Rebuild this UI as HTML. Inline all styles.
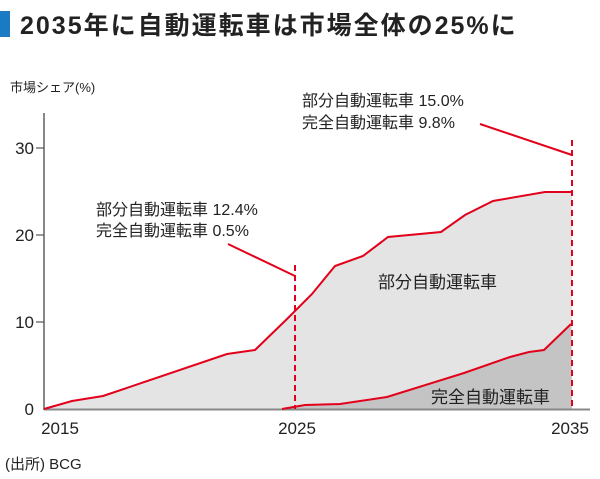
<!DOCTYPE html>
<html><head><meta charset="utf-8"><style>
body{margin:0;background:#fff;width:600px;height:474px;overflow:hidden}
svg text{font-family:"Liberation Sans","Noto Sans CJK JP",sans-serif}
</style></head><body>
<svg width="600" height="474" viewBox="0 0 600 474" xmlns="http://www.w3.org/2000/svg">
<rect x="0" y="11" width="10" height="26" fill="#1a7bc4"/>
<text x="20" y="34" font-size="25" font-weight="bold" fill="#222" letter-spacing="2">2035年に自動運転車は市場全体の25%に</text>
<text x="10" y="92" font-size="13" fill="#222">市場シェア(%)</text>
<polygon points="44,409 72,401 103,396 227,354 255,350 287,319 312,294 335,266 363,256 388,237 441,232 465,215 493,201 545,192 572,192 572,409" fill="#e4e4e4"/>
<polygon points="282,409 305,405 340,404 387,397 464,373 510,357 529,352 544,350 571,324 572,409" fill="#c4c4c4"/>
<line x1="44" y1="113" x2="44" y2="410" stroke="#888" stroke-width="2"/>
<line x1="44" y1="409.5" x2="590" y2="409.5" stroke="#888" stroke-width="2"/>
<g stroke="#555" stroke-width="1.2"><line x1="36" y1="148" x2="44" y2="148"/><line x1="36" y1="235" x2="44" y2="235"/><line x1="36" y1="322" x2="44" y2="322"/></g>
<g font-size="17" fill="#222" text-anchor="end"><text x="34" y="154">30</text><text x="34" y="241">20</text><text x="34" y="328">10</text><text x="34" y="415">0</text></g>
<g font-size="17" fill="#222" text-anchor="middle"><text x="60" y="434">2015</text><text x="297" y="434">2025</text><text x="570" y="434">2035</text></g>
<text x="5" y="469" font-size="15" fill="#222">(出所) BCG</text>
<g fill="none" stroke="#e3001b" stroke-width="2">
<polyline points="44,409 72,401 103,396 227,354 255,350 287,319 312,294 335,266 363,256 388,237 441,232 465,215 493,201 545,192 572,192"/>
<polyline points="282,409 305,405 340,404 387,397 464,373 510,357 529,352 544,350 571,324"/>
<line x1="295" y1="265" x2="295" y2="409" stroke-dasharray="6,4"/>
<line x1="572" y1="140" x2="572" y2="409" stroke-dasharray="6,4"/>
<line x1="228" y1="244" x2="295" y2="276"/>
<line x1="480" y1="124" x2="572" y2="155"/>
</g>
<g font-size="16" fill="#222">
<text x="96" y="215">部分自動運転車 12.4%</text>
<text x="96" y="236">完全自動運転車 0.5%</text>
<text x="302" y="106">部分自動運転車 15.0%</text>
<text x="302" y="128">完全自動運転車 9.8%</text>
<text x="378" y="288" font-size="17">部分自動運転車</text>
<text x="431" y="403" font-size="17">完全自動運転車</text>
</g>
</svg>
</body></html>
